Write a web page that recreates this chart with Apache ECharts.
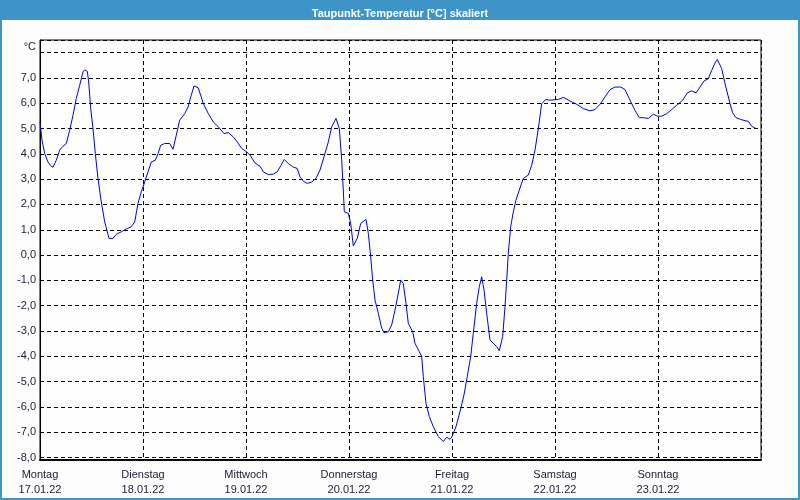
<!DOCTYPE html>
<html>
<head>
<meta charset="utf-8">
<script src="https://cdn.jsdelivr.net/npm/echarts@6/dist/echarts.min.js"></script>
<style>
  html, body { margin: 0; padding: 0; background: #fcfdfc; }
  #chart { width: 800px; height: 500px; }
</style>
</head>
<body>
<div id="chart"></div>
<script>
// Time in hours since Monday 17.01.22 00:00
const hours = [0,0.47,1.1,1.86,2.49,3.03,3.8,4.59,5.36,6.13,6.92,7.69,8.46,9.25,10.02,10.42,11.02,11.35,11.81,12.35,12.89,13.51,14.28,15.08,15.68,16.08,17.01,17.78,18.94,20.11,21.27,22.07,22.83,23.6,24.4,25.17,25.93,26.87,27.5,28.12,29.06,30.22,30.99,31.76,32.55,33.72,34.49,35.25,35.88,36.82,37.58,38.05,39.22,40.38,41.55,42.87,43.88,45.04,45.97,47.0,48.16,48.93,50.1,51.26,52.03,53.2,54.36,55.29,56.16,56.92,57.86,58.88,59.95,60.58,61.35,62.28,63.31,64.31,65.24,66.17,67.18,67.97,68.97,69.74,70.3,70.67,70.91,71.84,72.4,73.0,73.93,74.73,75.96,76.5,77.05,77.52,78.06,78.83,79.62,80.16,81.16,81.95,82.72,83.49,84.05,84.65,85.28,85.82,86.84,87.38,88.38,88.94,89.31,89.94,90.71,91.64,92.81,93.97,94.77,95.53,95.93,96.93,97.86,98.79,99.56,100.36,100.96,101.75,102.36,102.92,103.46,104.08,104.85,105.78,106.41,107.02,107.81,108.35,108.74,109.12,109.68,110.29,110.91,111.68,112.62,113.78,114.57,115.34,116.11,116.9,117.9,118.84,120.77,121.94,123.5,125.06,126.6,128.16,129.32,130.49,131.65,132.82,133.98,135.31,136.31,137.48,138.64,139.64,140.58,141.74,142.91,143.84,144.86,146.03,147.19,148.36,149.76,150.83,151.85,152.85,153.79,154.72,155.72,156.51,157.28,157.82,158.84,159.61,160.77,161.4,162.17,163.27,164.5,165.04,165.83,166.83];
const dewPoint = [5.25,4.54,4.01,3.68,3.53,3.47,3.75,4.15,4.30,4.41,4.93,5.53,6.19,6.71,7.24,7.32,7.26,6.84,5.79,5.0,4.01,3.03,2.10,1.31,0.92,0.66,0.66,0.82,0.92,1.03,1.12,1.31,2.04,2.50,2.89,3.29,3.68,3.75,4.01,4.34,4.41,4.41,4.18,4.74,5.33,5.59,5.85,6.32,6.68,6.62,6.25,5.99,5.59,5.26,5.07,4.80,4.84,4.67,4.47,4.21,4.08,3.95,3.64,3.51,3.29,3.18,3.20,3.29,3.55,3.78,3.62,3.49,3.42,3.09,2.92,2.83,2.89,3.03,3.36,3.88,4.47,5.07,5.40,5.0,3.75,2.57,1.71,1.65,1.25,0.36,0.66,1.25,1.41,0.86,-0.07,-0.99,-1.78,-2.30,-2.89,-3.07,-3.03,-2.76,-2.17,-1.51,-0.99,-1.12,-1.91,-2.70,-3.03,-3.49,-3.82,-4.01,-4.80,-5.86,-6.38,-6.78,-7.17,-7.37,-7.20,-7.28,-7.20,-6.78,-6.19,-5.53,-4.80,-4.01,-3.09,-1.91,-1.25,-0.86,-1.38,-2.30,-3.36,-3.51,-3.62,-3.78,-3.22,-2.04,-0.99,0.07,1.12,1.71,2.17,2.57,3.03,3.16,3.55,4.15,5.0,5.99,6.15,6.12,6.15,6.23,6.09,5.96,5.79,5.70,5.75,5.96,6.25,6.54,6.64,6.64,6.54,6.12,5.72,5.43,5.43,5.40,5.57,5.49,5.49,5.59,5.75,5.92,6.12,6.41,6.49,6.41,6.64,6.88,6.97,7.30,7.59,7.73,7.37,6.78,5.99,5.62,5.43,5.36,5.30,5.29,5.09,5.0];
const dayNames = ['Montag','Dienstag','Mittwoch','Donnerstag','Freitag','Samstag','Sonntag'];
const dayDates = ['17.01.22','18.01.22','19.01.22','20.01.22','21.01.22','22.01.22','23.01.22'];
const titleText = 'Taupunkt-Temperatur [°C] skaliert';

const seriesData = hours.map((h, i) => [h, dewPoint[i]]);
const FONT = "'Liberation Sans Narrow', 'Liberation Sans', Arial, sans-serif";
const TXT = '#1c1c38';

const chart = echarts.init(document.getElementById('chart'), null, {renderer: 'canvas'});
chart.setOption({
  animation: false,
  backgroundColor: '#fcfdfc',
  title: {
    text: titleText,
    left: 'center',
    top: 3,
    textStyle: {color: '#ffffff', fontSize: 11, fontWeight: 'bold', fontFamily: "'Liberation Sans', Arial, sans-serif"}
  },
  graphic: [
    {type: 'rect', z: -1, shape: {x: 0, y: 0, width: 800, height: 20}, style: {fill: '#3e94c6'}},
    {type: 'rect', z: -1, shape: {x: 0, y: 0, width: 2, height: 500}, style: {fill: '#3e94c6'}},
    {type: 'rect', z: -1, shape: {x: 798, y: 0, width: 2, height: 500}, style: {fill: '#3e94c6'}},
    {type: 'rect', z: -1, shape: {x: 0, y: 498, width: 800, height: 2}, style: {fill: '#3e94c6'}}
  ],
  grid: {
    left: 40, right: 39, top: 40, bottom: 40,
    show: true, borderColor: '#000', borderWidth: 1, backgroundColor: '#fdfefd'
  },
  xAxis: {
    type: 'value',
    min: 0, max: 168, interval: 24,
    axisLine: {show: true, onZero: false, lineStyle: {color: '#000', width: 2}},
    axisTick: {show: false},
    splitLine: {show: true, lineStyle: {color: '#000', type: [4, 3], width: 1}},
    axisLabel: {
      margin: 7,
      fontFamily: FONT, fontSize: 11, color: TXT, lineHeight: 15,
      showMaxLabel: false,
      formatter: v => {
        const d = Math.round(v / 24);
        return d < 7 ? dayNames[d] + '\n' + dayDates[d] : '';
      }
    }
  },
  yAxis: {
    type: 'value',
    min: -8.1, max: 8.5,
    minInterval: 1, maxInterval: 1,
    name: '°C',
    nameLocation: 'end',
    nameGap: -7,
    nameTextStyle: {fontFamily: FONT, fontSize: 11, color: TXT, align: 'right', verticalAlign: 'middle', padding: [0, 4, 0, 0]},
    axisLine: {show: true, lineStyle: {color: '#000', width: 1}},
    axisTick: {show: false},
    splitLine: {show: true, lineStyle: {color: '#000', type: [4, 3], width: 1}},
    axisLabel: {
      margin: 4,
      fontFamily: FONT, fontSize: 11, color: TXT,
      showMinLabel: false, showMaxLabel: false,
      formatter: v => (Math.abs(v - Math.round(v)) < 1e-6 && v >= -8 && v <= 7) ? v.toFixed(1).replace('.', ',') : ''
    }
  },
  series: [{
    type: 'line',
    data: seriesData,
    showSymbol: false,
    symbol: 'none',
    smooth: false,
    lineStyle: {color: '#0000ee', width: 1},
    z: 5
  }]
});
</script>
</body>
</html>
